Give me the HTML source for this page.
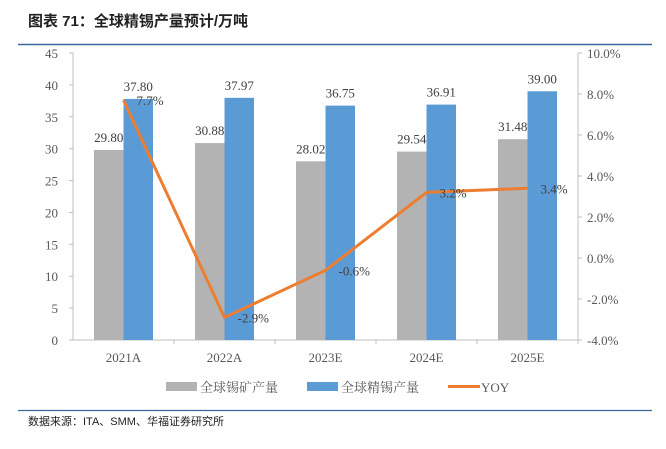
<!DOCTYPE html>
<html><head><meta charset="utf-8"><style>
body{margin:0;background:#fff;}
svg text{font-family:"Liberation Serif","Noto Serif CJK SC",serif;}
</style></head><body>
<svg width="666" height="444" viewBox="0 0 666 444" xmlns="http://www.w3.org/2000/svg">
<text x="28" y="26" font-size="15" font-weight="bold" fill="#222" style="font-family:'Liberation Sans','Noto Sans CJK SC',sans-serif">图表 71：全球精锡产量预计/万吨</text>
<line x1="18" y1="44.5" x2="652" y2="44.5" stroke="#3c66a0" stroke-width="1.5"/>
<g id="plot"></g>
<g>
<rect x="166" y="382" width="31" height="9" fill="#b3b3b3"/>
<text x="200" y="392" font-size="13" fill="#595959" style="font-family:'Noto Serif CJK SC',serif">全球锡矿产量</text>
<rect x="307" y="382" width="31" height="9" fill="#5b9bd5"/>
<text x="341" y="392" font-size="13" fill="#595959" style="font-family:'Noto Serif CJK SC',serif">全球精锡产量</text>
<line x1="448" y1="386.5" x2="480" y2="386.5" stroke="#ed7d31" stroke-width="3"/>
<text x="481" y="392" font-size="13" fill="#595959">YOY</text>
</g>
<line x1="18" y1="410.5" x2="652" y2="410.5" stroke="#3c66a0" stroke-width="1.2"/>
<text x="28" y="425" font-size="11" fill="#222" style="font-family:'Liberation Sans','Noto Sans CJK SC',sans-serif">数据来源：ITA、SMM、华福证券研究所</text>
</svg>
<script>
const categories=["2021A","2022A","2023E","2024E","2025E"];
const oreValues=[29.80,30.88,28.02,29.54,31.48];
const refinedValues=[37.80,37.97,36.75,36.91,39.00];
const yoyValues=[7.7,-2.9,-0.6,3.2,3.4];
const leftTicks=[0,5,10,15,20,25,30,35,40,45];
const rightTicks=[-4,-2,0,2,4,6,8,10];
const NS="http://www.w3.org/2000/svg";
const g=document.getElementById('plot');
const L=73,R=578,T=53,B=340;
const yL=v=>B-(v/45)*(B-T);
const yR=v=>B-((v+4)/14)*(B-T);
const cw=(R-L)/categories.length;
const xc=i=>L+cw*(i+0.5);
function mk(tag,attrs,txt){const e=document.createElementNS(NS,tag);for(const k in attrs)e.setAttribute(k,attrs[k]);if(txt!==undefined)e.textContent=txt;g.appendChild(e);return e;}
let e;
e=mk('line',{x1:L,y1:T,x2:L,y2:B,stroke:'#bfbfbf'});


e=mk('line',{x1:R,y1:T,x2:R,y2:B,stroke:'#bfbfbf'});


e=mk('line',{x1:L,y1:B,x2:R,y2:B,stroke:'#bfbfbf'});


leftTicks.forEach(v=>{
 e=mk('line',{x1:L-4,y1:yL(v),x2:L,y2:yL(v),stroke:'#bfbfbf'});
 
 
 e=mk('text',{x:L-15,y:yL(v)+5,'text-anchor':'end','font-size':13,fill:'#595959'},String(v));
 
 
});
rightTicks.forEach(v=>{
 e=mk('line',{x1:R,y1:yR(v),x2:R+4,y2:yR(v),stroke:'#bfbfbf'});
 
 
 e=mk('text',{x:R+9,y:yR(v)+5,'font-size':13,fill:'#595959'},v.toFixed(1)+'%');
 
 
});
categories.forEach((c,i)=>{
 e=mk('line',{x1:L+cw*(i+1),y1:B,x2:L+cw*(i+1),y2:B+4,stroke:'#bfbfbf'});
 
 
 e=mk('text',{x:xc(i),y:B+22,'text-anchor':'middle','font-size':13,fill:'#595959'},c);
 
 
 const bw=29.5;
 e=mk('rect',{x:xc(i)-bw,y:yL(oreValues[i]),width:bw,height:B-yL(oreValues[i]),fill:'#b3b3b3'});
 
 
 e=mk('rect',{x:xc(i),y:yL(refinedValues[i]),width:bw,height:B-yL(refinedValues[i]),fill:'#5b9bd5'});
 
 
 e=mk('text',{x:xc(i)-bw/2,y:yL(oreValues[i])-8,'text-anchor':'middle','font-size':13,fill:'#404040'},oreValues[i].toFixed(2));
 
 
 e=mk('text',{x:xc(i)+bw/2,y:yL(refinedValues[i])-8,'text-anchor':'middle','font-size':13,fill:'#404040'},refinedValues[i].toFixed(2));
 
 
});
e=mk('polyline',{points:yoyValues.map((v,i)=>xc(i)+','+yR(v)).join(' '),fill:'none',stroke:'#ed7d31','stroke-width':3,'stroke-linejoin':'round'});


yoyValues.forEach((v,i)=>{
 e=mk('text',{x:xc(i)+13,y:yR(v)+5,'font-size':13,fill:'#404040'},v.toFixed(1)+'%');
 
 
});
</script>
</body></html>
